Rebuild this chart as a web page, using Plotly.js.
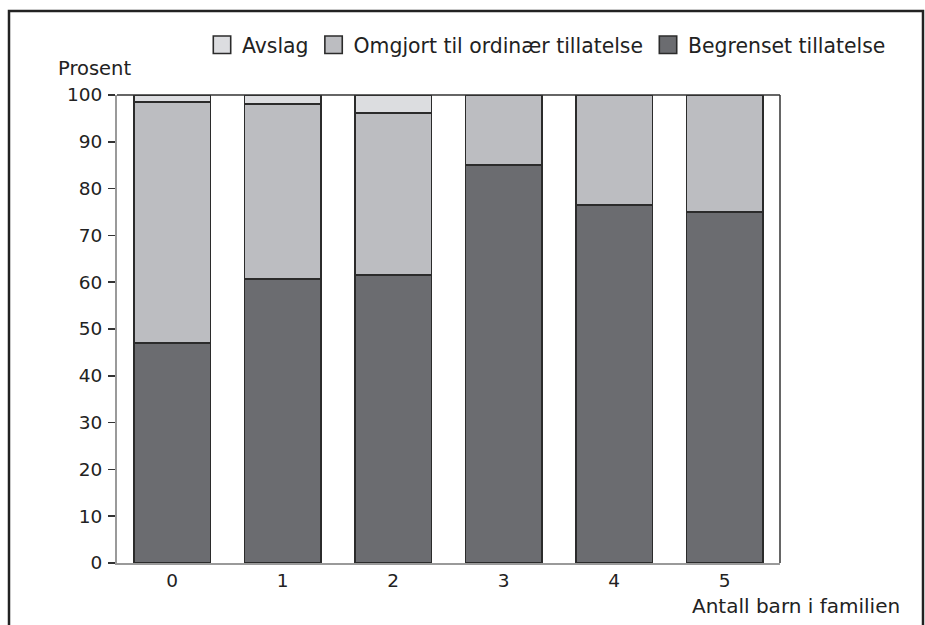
<!DOCTYPE html>
<html>
<head>
<meta charset="utf-8">
<script src="https://cdn.plot.ly/plotly-3.0.1.min.js"></script>
<style>html,body{margin:0;padding:0;background:#fff;}#chart{width:925px;height:625px;}</style>
</head>
<body>
<div id="chart"></div>
<script>
const categories = ["0", "1", "2", "3", "4", "5"];
const begrenset = [47.0, 60.7, 61.5, 85.0, 76.5, 75.0];
const omgjort = [51.5, 37.4, 34.7, 15.0, 23.5, 25.0];
const avslag = [1.5, 1.9, 3.8, 0, 0, 0];
const yTicks = [0, 10, 20, 30, 40, 50, 60, 70, 80, 90, 100];

const FONT = "DejaVu Sans, Open Sans, sans-serif";
const line = {color: "#2b2b2b", width: 1.5};
const W = 0.69;

const traces = [
  {type: "bar", name: "Begrenset tillatelse", x: categories, y: begrenset, width: W,
   marker: {color: "#6b6c70", line: line}},
  {type: "bar", name: "Omgjort til ordinær tillatelse", x: categories, y: omgjort, width: W,
   marker: {color: "#bcbdc1", line: line}},
  {type: "bar", name: "Avslag", x: categories, y: avslag, width: W,
   marker: {color: "#dcdde0", line: line}}
];

const L = 117, R = 780, T = 95, B = 563;
const pw = R - L, ph = B - T;
const px = v => (v - L) / pw;
const py = v => (B - v) / ph;

const layout = {
  width: 925, height: 625,
  margin: {l: L, r: 925 - R, t: T, b: 625 - B, autoexpand: false},
  paper_bgcolor: "#fff", plot_bgcolor: "#fff",
  font: {family: FONT, size: 18, color: "#222"},
  barmode: "stack",
  showlegend: true,
  legend: {orientation: "h", traceorder: "reversed",
           x: px(891), xanchor: "right", y: py(45), yanchor: "middle",
           bgcolor: "rgba(0,0,0,0)", font: {size: 20.4, color: "#222"},
           itemsizing: "constant", tracegroupgap: 0, itemwidth: 30},
  xaxis: {type: "category", range: [-0.5, 5.5], showline: true, linecolor: "#9a9a9a", linewidth: 2,
          ticks: "", showgrid: false, zeroline: false, tickfont: {size: 18.5}, fixedrange: true},
  yaxis: {range: [0, 100], tickvals: yTicks, showline: true, linecolor: "#9a9a9a", linewidth: 2,
          ticks: "outside", ticklen: 7, tickwidth: 1.5, tickcolor: "#333", ticklabelstandoff: 2,
          showgrid: false, zeroline: false, tickfont: {size: 18.5}, fixedrange: true},
  shapes: [
    {type: "line", xref: "paper", yref: "paper", x0: 0, x1: 1, y0: 1, y1: 1, line: {color: "#333", width: 1.5}},
    {type: "line", xref: "paper", yref: "paper", x0: 1, x1: 1, y0: 0, y1: 1, line: {color: "#333", width: 1.5}},
    {type: "rect", xref: "paper", yref: "paper", x0: px(9), x1: px(923), y0: py(11), y1: py(640),
     line: {color: "#222", width: 2.5}, fillcolor: "rgba(0,0,0,0)"}
  ],
  annotations: [
    {text: "Prosent", xref: "paper", yref: "paper", x: px(56), y: py(82), xanchor: "left", yanchor: "bottom",
     showarrow: false, font: {size: 19.5, color: "#222"}},
    {text: "Antall barn i familien", xref: "paper", yref: "paper", x: px(902), y: py(606), xanchor: "right", yanchor: "middle",
     showarrow: false, font: {size: 20, color: "#222"}}
  ]
};

Plotly.newPlot("chart", traces, layout, {displayModeBar: false, staticPlot: true}).then(function (gd) {
  gd.querySelectorAll(".legend .legendpoints path").forEach(function (p) {
    const t = p.getAttribute("transform") || "";
    p.setAttribute("transform", t + " scale(1.45)");
    p.style.strokeWidth = "1.1px";
  });
});
</script>
</body>
</html>
